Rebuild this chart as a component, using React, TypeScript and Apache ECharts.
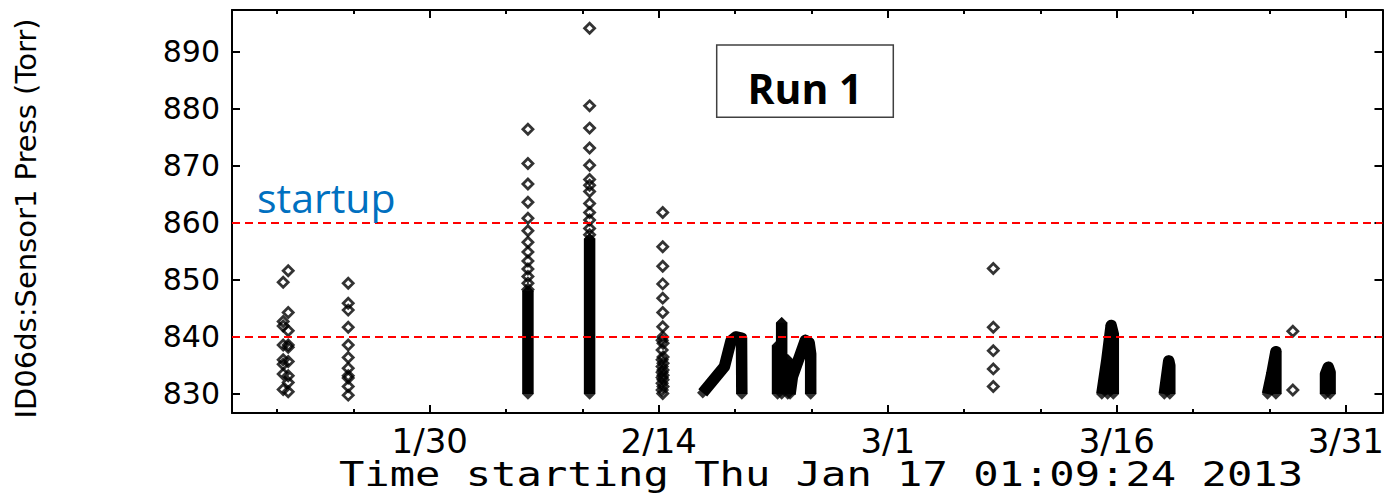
import React, { useEffect, useRef } from 'react';
import * as echarts from 'echarts';

// x values are day-of-year 2013 (Jan 1 = 1); start = Jan 17 01:09:24
const startDay = 17.048;
const endDay = 92.4;
const yMin = 826.67;
const yMax = 897.3;

const xMajorDays = [30, 45, 60, 75, 90];
const xMajorLabels = ['1/30', '2/14', '3/1', '3/16', '3/31'];
const xMinorDays = [20, 25, 30, 35, 40, 45, 50, 55, 60, 65, 70, 75, 80, 85, 90];
const yTicks = [830, 840, 850, 860, 870, 880, 890];
const thresholds = [860, 840];

// sparse readings: [day, Torr]
const burstJan20a = [[20.40, 849.6], [20.40, 842.7], [20.40, 841.9], [20.40, 838.6], [20.40, 836.0], [20.40, 835.2], [20.40, 833.5], [20.40, 830.8]];
const burstJan20b = [[20.73, 851.6], [20.73, 844.3], [20.73, 841.1], [20.73, 838.6], [20.73, 838.2], [20.73, 835.7], [20.73, 833.2], [20.73, 832.0], [20.73, 830.4]];
const burstJan24 = [[24.66, 849.4], [24.66, 845.9], [24.66, 844.7], [24.66, 841.7], [24.66, 838.6], [24.66, 836.4], [24.66, 834.5], [24.66, 833.2], [24.66, 832.8], [24.66, 831.3], [24.66, 829.8]];
const burstFeb5 = [[36.43, 876.4], [36.43, 870.4], [36.43, 866.8], [36.43, 863.6], [36.43, 860.8], [36.43, 858.6], [36.43, 856.6], [36.43, 854.9], [36.43, 853.3], [36.43, 851.9], [36.43, 850.6], [36.43, 849.4], [36.43, 848.3]];
const burstFeb9 = [[40.47, 894.1], [40.47, 880.5], [40.47, 876.6], [40.47, 873.1], [40.47, 870.1], [40.47, 867.6], [40.47, 866.6], [40.47, 865.5], [40.47, 863.4], [40.47, 861.8], [40.47, 860.5], [40.47, 859.0], [40.47, 857.9]];
const burstFeb14 = [[45.26, 861.8], [45.26, 855.8], [45.26, 852.4], [45.26, 849.3], [45.26, 846.8], [45.26, 844.3], [45.26, 841.8], [45.26, 840.0], [45.22, 839.4], [45.28, 838.9], [45.22, 837.7], [45.28, 836.5], [45.22, 836.0], [45.28, 835.4], [45.22, 834.8], [45.28, 834.2], [45.22, 833.8], [45.28, 833.3], [45.22, 832.9], [45.28, 832.5], [45.22, 831.9], [45.28, 831.3], [45.22, 830.7], [45.26, 830.1]];
const burstMar8 = [[66.91, 852.0], [66.91, 841.7], [66.91, 837.6], [66.91, 834.4], [66.91, 831.3]];
const burstMar26 = [[86.53, 841.0], [86.53, 830.7]];

// dense runs of readings (thousands of overlapping markers), traced as paths: [day, Torr]
const denseFeb5 = [[36.43, 848.0], [36.43, 830.0]];
const denseFeb9 = [[40.47, 857.2], [40.47, 830.0]];
const denseFeb16 = [[47.88, 830.2], [49.30, 834.8], [49.73, 839.3], [50.05, 840.0], [50.42, 839.8], [50.44, 830.0]];
const denseFeb19a = [[52.78, 838.5], [52.78, 830.0]];
const denseFeb19b = [[53.05, 842.5], [53.05, 830.0]];
const denseFeb19c = [[53.45, 836.0], [53.45, 830.0]];
const denseFeb20 = [[53.6, 830.0], [53.75, 833.0], [54.6, 839.4], [54.85, 839.0], [54.95, 837.0], [54.95, 830.0]];
const denseMar15 = [[74.02, 830.0], [74.35, 836.0], [74.63, 842.0], [74.77, 840.5], [74.77, 830.0]];
const denseMar15b = [[74.40, 830.0], [74.63, 840.5]];
const denseMar18 = [[78.11, 830.0], [78.40, 835.8], [78.47, 835.0], [78.47, 830.0]];
const denseMar25 = [[84.87, 830.0], [85.15, 833.5], [85.42, 837.4], [85.42, 830.0]];
const denseMar28 = [[88.67, 830.0], [88.67, 833.5], [88.85, 834.7], [88.97, 833.8], [88.97, 830.0]];

const sparseSets = [burstJan20a, burstJan20b, burstJan24, burstFeb5, burstFeb9, burstFeb14, burstMar8, burstMar26];
const denseSets = [denseFeb5, denseFeb9, denseFeb16, denseFeb19a, denseFeb19b, denseFeb19c, denseFeb20, denseMar15, denseMar15b, denseMar18, denseMar25, denseMar28];

const titleText = 'Time starting Thu Jan 17 01:09:24 2013';
const yName = 'ID06ds:Sensor1 Press (Torr)';
const boxText = 'Run 1';
const noteText = 'startup';

export default function App() {
  const ref = useRef<HTMLDivElement>(null);
  useEffect(() => {
    document.body.style.margin = '0';
    if (!ref.current) return;
    const chart = echarts.init(ref.current, null, { renderer: 'svg' });
    const axisLineStyle = { color: '#000', width: 2 };
    const hiddenX = {
      type: 'value', min: startDay, max: endDay,
      splitLine: { show: false }, axisLabel: { show: false },
      axisLine: { show: false }, axisTick: { show: false },
    };
    const tips: number[][] = [];
    denseSets.forEach((d) => {
      tips.push(d[0], d[d.length - 1]);
      let top = d[0];
      d.forEach((p) => { if (p[1] > top[1]) top = p; });
      tips.push(top);
    });
    const series: any[] = [];
    denseSets.forEach((d) => {
      series.push({
        type: 'line', data: d, showSymbol: false, silent: true, z: 2,
        lineStyle: { color: '#000', width: 11.5, join: 'round', cap: 'butt' },
      });
    });
    series.push({
      type: 'scatter', data: tips, symbol: 'diamond', symbolSize: 11.5, z: 3, silent: true,
      itemStyle: { color: '#000' },
    });
    sparseSets.forEach((d) => {
      series.push({
        type: 'scatter', data: d, symbol: 'diamond', symbolSize: 10, z: 4, silent: true,
        itemStyle: { color: 'rgba(0,0,0,0)', borderColor: '#000', borderWidth: 2.8 },
      });
    });
    series.push({
      type: 'line', data: [], z: 6,
      markLine: {
        silent: true, symbol: 'none', label: { show: false }, animation: false,
        lineStyle: { color: '#ff0000', type: [8, 5], width: 2 },
        data: thresholds.map((v) => ({ yAxis: v })),
      },
    });
    chart.setOption({
      animation: false,
      backgroundColor: '#fff',
      grid: { left: 232, right: 3, top: 10, bottom: 84, containLabel: false },
      xAxis: [
        {
          ...hiddenX, position: 'bottom',
          axisLine: { show: true, onZero: false, lineStyle: axisLineStyle },
          axisTick: { show: true, inside: true, length: 8, lineStyle: axisLineStyle, customValues: xMajorDays },
          axisLabel: {
            show: true, customValues: xMajorDays, margin: 11,
            fontFamily: 'DejaVu Sans', fontSize: 34, color: '#000',
            formatter: (v: number) => {
              const i = xMajorDays.indexOf(Math.round(v));
              return i >= 0 ? xMajorLabels[i] : '';
            },
          },
        },
        {
          ...hiddenX, position: 'bottom',
          axisTick: { show: true, inside: true, length: 4, lineStyle: axisLineStyle, customValues: xMinorDays },
        },
        {
          ...hiddenX, position: 'top',
          axisLine: { show: true, onZero: false, lineStyle: axisLineStyle },
          axisTick: { show: true, inside: true, length: 8, lineStyle: axisLineStyle, customValues: xMajorDays },
        },
        {
          ...hiddenX, position: 'top',
          axisTick: { show: true, inside: true, length: 4, lineStyle: axisLineStyle, customValues: xMinorDays },
        },
      ],
      yAxis: [
        {
          type: 'value', min: yMin, max: yMax, position: 'left',
          splitLine: { show: false },
          axisLine: { show: true, onZero: false, lineStyle: axisLineStyle },
          axisTick: { show: true, inside: true, length: 8, lineStyle: axisLineStyle, customValues: yTicks },
          axisLabel: { show: true, customValues: yTicks, margin: 12, fontFamily: 'DejaVu Sans', fontSize: 30, color: '#000' },
        },
        {
          type: 'value', min: yMin, max: yMax, position: 'right',
          splitLine: { show: false },
          axisLine: { show: true, onZero: false, lineStyle: axisLineStyle },
          axisTick: { show: true, inside: true, length: 8, lineStyle: axisLineStyle, customValues: yTicks },
          axisLabel: { show: false },
        },
      ],
      graphic: [
        {
          type: 'text', x: 821, y: 474.5, scaleX: 1.24, silent: true,
          style: {
            text: titleText, fontFamily: 'DejaVu Sans Mono', fontSize: 34, fill: '#000',
            align: 'center', verticalAlign: 'middle', textAlign: 'center', textVerticalAlign: 'middle',
          },
        },
        {
          type: 'text', x: 26, y: 218.5, rotation: Math.PI / 2, silent: true,
          style: {
            text: yName, fontFamily: 'DejaVu Sans', fontSize: 29, fill: '#000',
            align: 'center', verticalAlign: 'middle', textAlign: 'center', textVerticalAlign: 'middle',
          },
        },
        {
          type: 'rect', silent: true, z: 10,
          shape: { x: 716.7, y: 45, width: 176.6, height: 72.3 },
          style: { fill: '#fff', stroke: '#404040', lineWidth: 1.5 },
        },
        {
          type: 'text', x: 805, y: 87.5, silent: true, z: 11,
          style: {
            text: boxText, fontFamily: 'Open Sans', fontWeight: 'bold', fontSize: 41, fill: '#000',
            align: 'center', verticalAlign: 'middle', textAlign: 'center', textVerticalAlign: 'middle',
          },
        },
        {
          type: 'text', x: 257, y: 197, silent: true, z: 11,
          style: {
            text: noteText, fontFamily: 'Open Sans', fontSize: 41, fill: '#0070C0',
            align: 'left', verticalAlign: 'middle', textAlign: 'left', textVerticalAlign: 'middle',
          },
        },
      ],
      series,
    });
    return () => chart.dispose();
  }, []);
  return <div ref={ref} style={{ width: 1387, height: 497 }} />;
}
